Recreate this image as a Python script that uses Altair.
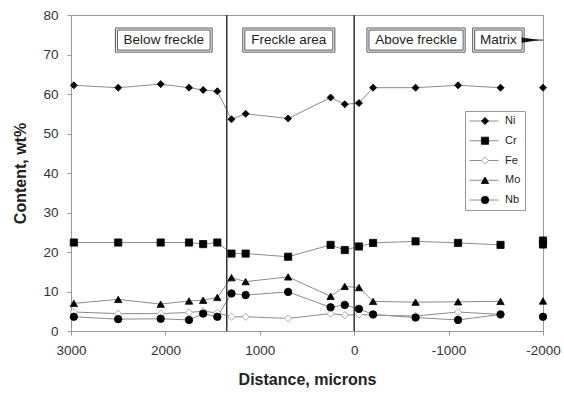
import altair as alt
import pandas as pd

# ---- data ----
elements = ["Ni", "Cr", "Fe", "Mo", "Nb"]
distance = [2970, 2500, 2050, 1750, 1600, 1450, 1300, 1150, 700, 250, 100, -50,
            -200, -650, -1100, -1550]
ni = [62.2, 61.6, 62.5, 61.6, 61.0, 60.7, 53.6, 55.0, 53.8, 59.1, 57.4, 57.7,
      61.6, 61.6, 62.2, 61.6]
cr = [22.4, 22.4, 22.4, 22.4, 22.0, 22.4, 19.6, 19.6, 18.8, 21.8, 20.5, 21.4,
      22.3, 22.7, 22.3, 21.8]
fe = [4.8, 4.4, 4.4, 4.7, 5.0, 4.6, 3.6, 3.6, 3.2, 4.4, 4.0, 4.2,
      4.0, 3.8, 4.8, 4.2]
mo = [7.0, 8.0, 6.8, 7.6, 7.8, 8.5, 13.5, 12.5, 13.7, 8.8, 11.3, 11.0,
      7.5, 7.3, 7.4, 7.5]
nb = [3.6, 3.0, 3.1, 2.8, 4.4, 3.6, 9.5, 9.1, 9.9, 6.0, 6.6, 5.6,
      4.2, 3.4, 2.8, 4.2]

matrix_distance = -2000
matrix_elements = ["Ni", "Cr", "Cr", "Mo", "Nb"]
matrix_values = [61.6, 22.9, 21.9, 7.6, 3.6]

boundaries = [1350, 0]

region_labels = ["Below freckle", "Freckle area", "Above freckle", "Matrix"]
region_x1 = [2530, 1180, -135, -1255]
region_x2 = [1505, 205, -1175, -1800]
label_top = 76.7
label_bottom = 70.6
arrow_from = -1800
arrow_to = -2000
arrow_head = -1870

x_ticks = [3000, 2000, 1000, 0, -1000, -2000]

# ---- tables ----
line_names = [e + " " for e in elements]  # separate domain so the line legend is not merged
rows = []
for el, ln, vals in zip(elements, line_names, [ni, cr, fe, mo, nb]):
    for d, v in zip(distance, vals):
        rows.append({"distance": d, "content": v, "el": el, "el_line": ln})
profile = pd.DataFrame(rows)
matrix = pd.DataFrame({"distance": [matrix_distance] * len(matrix_elements),
                       "content": matrix_values, "el": matrix_elements})
points_df = pd.concat([profile[["distance", "content", "el"]], matrix], ignore_index=True)

regions = pd.DataFrame({"label": region_labels, "x1": region_x1, "x2": region_x2,
                        "y1": [label_top] * 4, "y2": [label_bottom] * 4})
regions["xm"] = (regions["x1"] + regions["x2"]) / 2
regions["ym"] = (regions["y1"] + regions["y2"]) / 2
arrow_df = pd.DataFrame({"x1": [arrow_from], "x2": [arrow_to], "y": [(label_top + label_bottom) / 2],
                         "xh": [arrow_head]})
bound_df = pd.DataFrame({"distance": boundaries})

FONT = "Liberation Sans"
xscale = alt.Scale(domain=[-2000, 3000], reverse=True, nice=False, zero=False)
yscale = alt.Scale(domain=[0, 80], nice=False)

xaxis = alt.Axis(title="Distance, microns", values=x_ticks, labelExpr="'' + datum.value",
                 labelFlush=False, labelOverlap=False, grid=False, tickSize=4,
                 labelPadding=8, titlePadding=15)
yaxis = alt.Axis(title="Content, wt%", values=list(range(0, 81, 10)), grid=False,
                 tickSize=4, labelPadding=9, titlePadding=14)


def X(field):
    return alt.X(f"{field}:Q", scale=xscale, axis=xaxis)


def Y(field):
    return alt.Y(f"{field}:Q", scale=yscale, axis=yaxis)


line_legend = alt.Legend(title=None, orient="none", legendX=394, legendY=96,
                         direction="vertical", columns=1, symbolType="stroke",
                         symbolSize=841, symbolStrokeWidth=1, symbolStrokeColor="#8c8c8c",
                         labelFont=FONT, labelFontSize=11, labelColor="#222", labelOffset=6,
                         padding=4, clipHeight=12, rowPadding=7.75, strokeColor="#999",
                         zindex=1)

lines = alt.Chart(profile).mark_line(strokeWidth=1, opacity=1).encode(
    x=X("distance"), y=Y("content"),
    color=alt.Color("el_line:N", scale=alt.Scale(domain=line_names, range=["#8c8c8c"] * 5),
                    legend=line_legend),
)

shape_legend = alt.Legend(title=None, orient="none", legendX=394, legendY=96,
                          direction="vertical", columns=1, labelExpr="''",
                          symbolStrokeWidth=0.8, symbolOpacity=1,
                          symbolOffset=11, padding=4, clipHeight=12, rowPadding=7.75,
                          zindex=2)

points = alt.Chart(points_df).mark_point(filled=True, opacity=1, strokeWidth=0.8).encode(
    x=X("distance"), y=Y("content"),
    shape=alt.Shape("el:N", scale=alt.Scale(domain=elements,
                    range=["diamond", "square", "diamond", "triangle-up", "circle"]),
                    legend=shape_legend),
    fill=alt.Fill("el:N", scale=alt.Scale(domain=elements,
                  range=["black", "black", "white", "black", "black"]), legend=shape_legend),
    stroke=alt.Stroke("el:N", scale=alt.Scale(domain=elements,
                      range=["black", "black", "#9a9a9a", "black", "black"]), legend=shape_legend),
    size=alt.Size("el:N", scale=alt.Scale(domain=elements, range=[50, 56, 34, 56, 52]),
                  legend=shape_legend),
)

rules = alt.Chart(bound_df).mark_rule(color="#333", strokeWidth=1.5).encode(x=X("distance"))

box_outer = alt.Chart(regions).mark_rect(fill="white", stroke="#555", strokeWidth=1).encode(
    x=X("x1"), x2="x2", y=Y("y1"), y2="y2")
box_inner = alt.Chart(regions).mark_rect(fill="white", stroke="#555", strokeWidth=1,
                                         xOffset=2, x2Offset=-2, yOffset=2, y2Offset=-2).encode(
    x=X("x1"), x2="x2", y=Y("y1"), y2="y2")
box_text = alt.Chart(regions).mark_text(font=FONT, fontSize=13.5, color="#222",
                                        align="center", baseline="middle").encode(
    x=X("xm"), y=Y("ym"), text="label:N")

arrow_line = alt.Chart(arrow_df).mark_rule(color="#222", strokeWidth=1).encode(
    x=X("x1"), x2="x2", y=Y("y"))
arrow_tip = alt.Chart(arrow_df).mark_point(shape="M-1,-0.3 L1,0 L-1,0.3 Z", size=324,
                                           filled=True, color="#111", opacity=1).encode(
    x=X("xh"), y=Y("y"))

chart = alt.layer(lines, rules, points, box_outer, box_inner, box_text, arrow_line, arrow_tip).properties(
    width=472, height=316,
    background="white",
    autosize=alt.AutoSizeParams(type="none"),
    padding={"left": 71, "top": 15, "right": 21, "bottom": 62},
).configure_view(stroke="#999", strokeWidth=1).configure_axis(
    domainColor="#999", tickColor="#999", labelFont=FONT, labelFontSize=13.5, labelColor="#333",
    titleFont=FONT, titleFontSize=16, titleFontWeight="bold", titleColor="#222",
)

chart.save("out.html", embed_options={"renderer": "svg", "actions": False})
